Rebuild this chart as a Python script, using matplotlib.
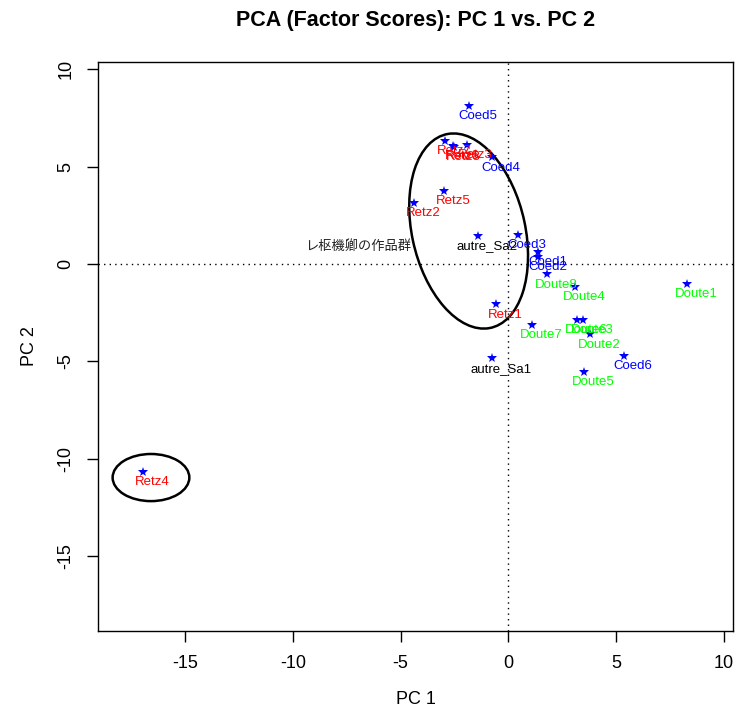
import numpy as np
import matplotlib
matplotlib.use("Agg")
import matplotlib.pyplot as plt
from matplotlib.patches import Ellipse

# factor scores
names = ["Retz1", "Retz2", "Retz3", "Retz4", "Retz5", "Retz6", "Retz7", "Retz8",
         "Coed1", "Coed2", "Coed3", "Coed4", "Coed5", "Coed6",
         "Doute1", "Doute2", "Doute3", "Doute4", "Doute5", "Doute6", "Doute7", "Doute8",
         "autre_Sa1", "autre_Sa2"]
pc1 = [-0.57, -4.37, -1.93, -16.93, -2.97, -2.56, -2.93, -2.51,
       1.40, 1.40, 0.44, -0.77, -1.82, 5.37,
       8.31, 3.80, 3.48, 3.10, 3.53, 3.18, 1.09, 1.79,
       -0.77, -1.39]
pc2 = [-2.07, 3.15, 6.11, -10.67, 3.76, 6.06, 6.32, 6.01,
       0.63, 0.37, 1.49, 5.48, 8.12, -4.73,
       -1.03, -3.61, -2.88, -1.17, -5.53, -2.88, -3.13, -0.53,
       -4.84, 1.45]

group_colors = {"Retz": "#FF0000", "Coed": "#0000FF", "Doute": "#00FF00", "autre": "black"}

# ellipse around the Retz group (center + covariance) and around Retz4
big_center = (-1.84, 1.69)
big_cov = np.array([[7.6, -3.5], [-3.5, 25.1]])
small_center = (-16.58, -10.97)
small_size = (3.56, 2.42)

group_label = "レ枢機卿の作品群"
group_label_pos = (-6.97, 0.92)

xticks = [-15, -10, -5, 0, 5, 10]
yticks = [-15, -10, -5, 0, 5, 10]

plt.rcParams["font.family"] = ["Liberation Sans", "DejaVu Sans"]
plt.rcParams["axes.unicode_minus"] = False

fig = plt.figure(figsize=(7.36, 7.20), dpi=100)
ax = fig.add_axes([0.1334, 0.1236, 0.8623, 0.7903])

ax.axhline(0, color="black", lw=1, ls=(0, (1, 3)))
ax.axvline(0, color="black", lw=1, ls=(0, (1, 3)))

ax.plot(pc1, pc2, linestyle="none", marker="*", color="#0000FF", markersize=7, markeredgewidth=0)

for n, x, y in zip(names, pc1, pc2):
    col = group_colors[n.rstrip("0123456789").split("_")[0]]
    ax.annotate(n, (x, y), xytext=(6.5, -7.5), textcoords="offset points",
                ha="center", va="center", fontsize=9.5, color=col)

vals, vecs = np.linalg.eigh(big_cov)
angle = np.degrees(np.arctan2(vecs[1, 1], vecs[0, 1]))
ax.add_patch(Ellipse(big_center, 2 * np.sqrt(vals[1]), 2 * np.sqrt(vals[0]), angle=angle,
                     fill=False, edgecolor="black", lw=1.8))
ax.add_patch(Ellipse(small_center, small_size[0], small_size[1],
                     fill=False, edgecolor="black", lw=1.8))

ax.text(group_label_pos[0], group_label_pos[1], group_label, ha="center", va="center",
        fontsize=9.5, color="#222222", family=["Noto Sans CJK JP", "DejaVu Sans"])

ax.set_xlim(-19.03, 10.42)
ax.set_ylim(-18.85, 10.37)
ax.set_xticks(xticks)
ax.set_yticks(yticks)
ax.tick_params(direction="out", length=8, width=1, labelsize=13, pad=9)
for lab in ax.get_yticklabels():
    lab.set_rotation(90)
    lab.set_va("center")
for s in ax.spines.values():
    s.set_linewidth(1)

ax.set_xlabel("PC 1", fontsize=13, labelpad=14)
ax.set_ylabel("PC 2", fontsize=13, labelpad=14)
fig.suptitle("PCA (Factor Scores): PC 1 vs. PC 2", x=0.564, y=0.971, va="center",
             fontsize=15.5, fontweight="bold")

fig.savefig("out.png", dpi=100)
